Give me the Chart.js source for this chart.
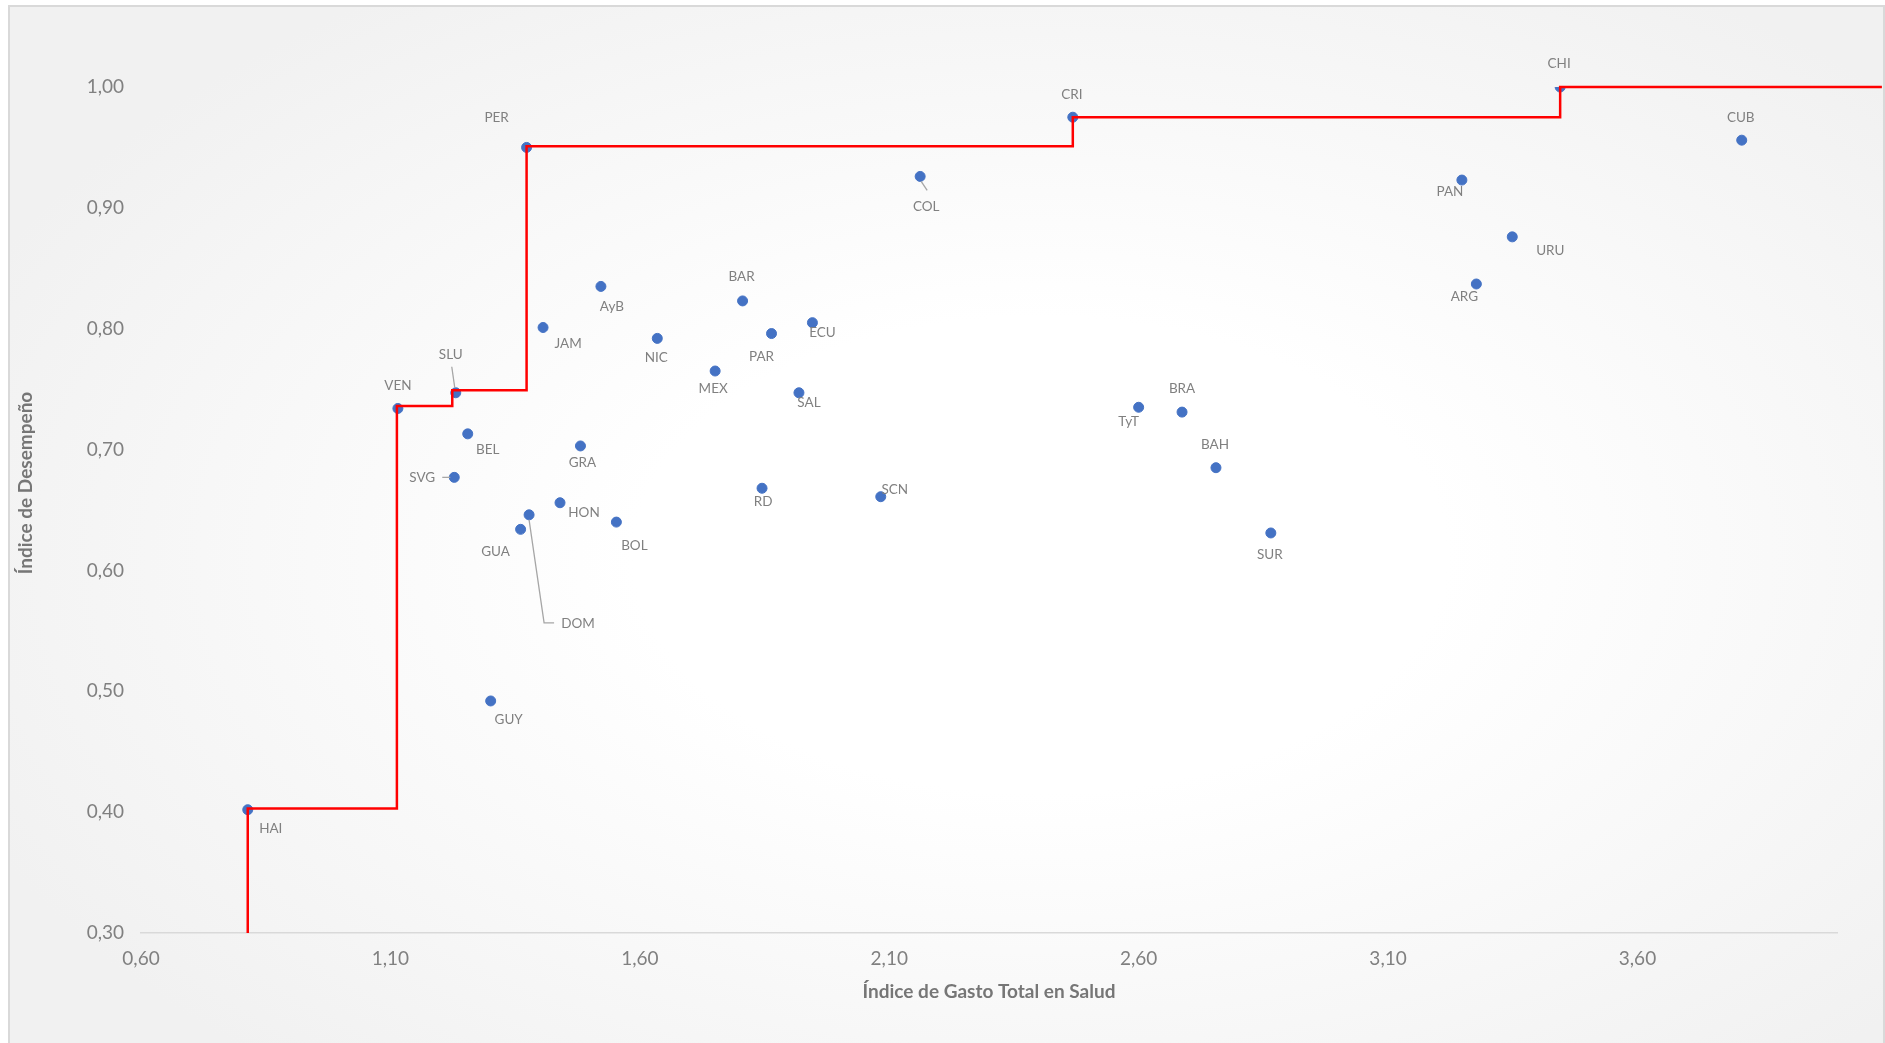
<!DOCTYPE html>
<html>
<head>
<meta charset="utf-8">
<script src="https://cdn.jsdelivr.net/npm/chart.js@4.4.1/dist/chart.umd.min.js"></script>
<style>
    html, body { margin: 0; padding: 0; overflow: hidden; background: #ffffff; }
    #frame {
        position: absolute; left: 8px; top: 5px; width: 1877px; height: 1100px;
        box-sizing: border-box; border: 2px solid #d9d9d9;
        background: radial-gradient(ellipse 62% 62% at 55% 50%, #ffffff 35%, #f1f1f1 100%);
    }
    #wrap { position: absolute; left: 0; top: 0; width: 1885px; height: 1043px; }
</style>
</head>
<body>
<div id="frame"></div>
<div id="wrap"><canvas id="chart" width="1885" height="1043"></canvas></div>
<script>
// country codes and their two indices
const countries = ['HAI', 'VEN', 'SLU', 'PER', 'CRI', 'CHI', 'CUB', 'PAN', 'URU', 'ARG',
    'COL', 'AyB', 'JAM', 'BAR', 'NIC', 'ECU', 'PAR', 'MEX', 'SAL', 'BEL',
    'GRA', 'SVG', 'HON', 'DOM', 'GUA', 'BOL', 'RD', 'SCN', 'GUY', 'TyT',
    'BRA', 'BAH', 'SUR'];
const gastoIndex = [0.814, 1.115, 1.231, 1.373, 2.468, 3.445, 3.809, 3.248, 3.349, 3.277,
    2.162, 1.522, 1.406, 1.806, 1.635, 1.946, 1.864, 1.751, 1.919, 1.255,
    1.481, 1.228, 1.440, 1.378, 1.361, 1.553, 1.845, 2.083, 1.301, 2.600,
    2.687, 2.755, 2.865];
const desempeno = [0.402, 0.734, 0.747, 0.950, 0.975, 1.000, 0.956, 0.923, 0.876, 0.837,
    0.926, 0.835, 0.801, 0.823, 0.792, 0.805, 0.796, 0.765, 0.747, 0.713,
    0.703, 0.677, 0.656, 0.646, 0.634, 0.640, 0.668, 0.661, 0.492, 0.735,
    0.731, 0.685, 0.631];

// efficiency frontier (red step line)
const frontierX = [0.814, 0.814, 1.113, 1.224, 1.373, 2.468, 3.445, 4.09];
const frontierY = [0.300, 0.403, 0.736, 0.749, 0.951, 0.975, 1.000, 1.000];

const xTicks = [0.6, 1.1, 1.6, 2.1, 2.6, 3.1, 3.6];
const yTicks = [0.3, 0.4, 0.5, 0.6, 0.7, 0.8, 0.9, 1.0];

// label placement, pixels from each point
const labelOffsets = [[23, 19], [0, -23], [-5, -38], [-30, -30], [-1, -23], [-1, -23], [-1, -23], [-12, 12], [38, 14], [-12, 13],
    [6, 30], [11, 20], [25, 16], [-1, -24], [-1, 19], [10, 10], [-10, 23], [-2, 18], [10, 10], [20, 16],
    [2, 17], [-32, 0], [24, 10], [49, 109], [-25, 22], [18, 24], [1, 13], [14, -7], [18, 19], [-10, 14],
    [0, -23], [-1, -23], [-1, 22]];
const leaders = {
    SLU: [[-4, -26], [-1, -5]],
    COL: [[1, 5], [7, 14]],
    SVG: [[-12, 0], [-4, 0]],
    DOM: [[0, 5], [15, 108], [25, 108]]
};

const fmt = v => v.toFixed(2).replace('.', ',');

const labelPlugin = {
    id: 'pointLabels',
    afterDatasetsDraw(chart) {
        const ctx = chart.ctx;
        const meta = chart.getDatasetMeta(1);
        ctx.save();
        ctx.strokeStyle = '#a6a6a6';
        ctx.lineWidth = 1.3;
        Object.keys(leaders).forEach(name => {
            const pt = meta.data[countries.indexOf(name)];
            ctx.beginPath();
            leaders[name].forEach(([dx, dy], k) => {
                if (k === 0) ctx.moveTo(pt.x + dx, pt.y + dy);
                else ctx.lineTo(pt.x + dx, pt.y + dy);
            });
            ctx.stroke();
        });
        ctx.font = '13.5px Lato';
        ctx.fillStyle = '#808080';
        ctx.textAlign = 'center';
        ctx.textBaseline = 'middle';
        meta.data.forEach((pt, i) => {
            const [dx, dy] = labelOffsets[i];
            ctx.fillText(countries[i], pt.x + dx, pt.y + dy);
        });
        // y axis title
        ctx.translate(26, 483);
        ctx.rotate(-Math.PI / 2);
        ctx.font = 'bold 19px Lato';
        ctx.fillStyle = '#767676';
        ctx.fillText('Índice de Desempeño', 0, 0);
        ctx.restore();
    }
};

new Chart(document.getElementById('chart').getContext('2d'), {
    type: 'scatter',
    data: {
        datasets: [{
            type: 'line',
            label: 'Frontera',
            data: frontierX.map((x, i) => ({ x: x, y: frontierY[i] })),
            borderColor: '#ff0000',
            borderWidth: 2.5,
            pointRadius: 0,
            stepped: 'before',
            fill: false,
            clip: false,
            order: 0
        }, {
            label: 'Países',
            data: gastoIndex.map((x, i) => ({ x: x, y: desempeno[i] })),
            backgroundColor: '#4472c4',
            borderColor: '#4472c4',
            pointRadius: 5,
            order: 1
        }]
    },
    options: {
        responsive: false,
        animation: false,
        layout: { padding: { left: 0, top: 87, right: 48, bottom: 0 } },
        plugins: { legend: { display: false }, tooltip: { enabled: false } },
        scales: {
            x: {
                type: 'linear',
                min: 0.6,
                max: 4.0,
                afterBuildTicks: scale => { scale.ticks = xTicks.map(v => ({ value: v })); },
                afterFit: scale => { scale.height = 110; },
                grid: { display: false, drawTicks: false },
                border: { display: true, color: '#d9d9d9', width: 1.5 },
                ticks: {
                    padding: 14,
                    color: '#808080',
                    font: { family: 'Lato', size: 19 },
                    callback: v => fmt(v)
                },
                title: {
                    display: true,
                    text: 'Índice de Gasto Total en Salud',
                    color: '#767676',
                    font: { family: 'Lato', size: 19, weight: 'bold' },
                    padding: { top: 0, bottom: 40 }
                }
            },
            y: {
                type: 'linear',
                min: 0.3,
                max: 1.0,
                afterBuildTicks: scale => { scale.ticks = yTicks.map(v => ({ value: v })); },
                afterFit: scale => { scale.width = 141; },
                grid: { display: false, drawTicks: false },
                border: { display: false },
                ticks: {
                    padding: 17,
                    color: '#808080',
                    font: { family: 'Lato', size: 19 },
                    callback: v => fmt(v)
                }
            }
        }
    },
    plugins: [labelPlugin]
});
</script>
</body>
</html>
